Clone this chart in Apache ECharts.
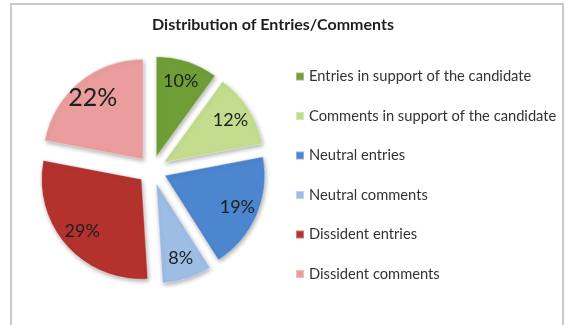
<!DOCTYPE html>
<html>
<head>
<meta charset="utf-8">
<script src="https://cdn.jsdelivr.net/npm/echarts@6/dist/echarts.min.js"></script>
<style>
html,body{margin:0;padding:0;background:#fff;}
#chart{width:567px;height:325px;}
</style>
</head>
<body>
<div id="chart"></div>
<script>
const categories = [
  'Entries in support of the candidate',
  'Comments in support of the candidate',
  'Neutral entries',
  'Neutral comments',
  'Dissident entries',
  'Dissident comments'
];
const shares = [10, 12, 19, 8, 29, 22];
const titleText = 'Distribution of Entries/Comments';

const colors = ['#6f9e36', '#c4dc8e', '#4c86cf', '#9dbde5', '#b3322e', '#ea9d9c'];
const labelFontSizes = [18, 18, 18, 18, 18, 25];

const chart = echarts.init(document.getElementById('chart'), null, {renderer: 'canvas'});

const pieData = categories.map((name, i) => ({
  name: name,
  value: shares[i],
  selected: true,
  itemStyle: {color: colors[i]}
}));
const labelData = categories.map((name, i) => ({
  name: name,
  value: shares[i],
  selected: true,
  label: {fontSize: labelFontSizes[i]}
}));

const center = [152, 170];
chart.setOption({
  animation: false,
  backgroundColor: '#ffffff',
  title: {
    text: titleText,
    left: 268, top: 12, textAlign: 'center',
    textStyle: {fontFamily: 'Lato', fontWeight: 'bold', fontSize: 16, color: '#1e1e1e'}
  },
  graphic: [{
    type: 'rect', silent: true, z: -1,
    shape: {x: 11, y: 4, width: 552, height: 330},
    style: {fill: 'none', stroke: '#cdc8c6', lineWidth: 2}
  }],
  legend: {
    orient: 'vertical',
    left: 290, top: 64,
    itemWidth: 8, itemHeight: 8, itemGap: 24.5,
    icon: 'rect',
    selectedMode: false,
    textStyle: {fontFamily: 'Lato', fontSize: 14.7, color: '#333', lineHeight: 15},
    data: categories
  },
  series: [{
    type: 'pie',
    center: center,
    radius: 100,
    startAngle: 90,
    clockwise: true,
    selectedMode: 'multiple',
    selectedOffset: 14,
    silent: true,
    emphasis: {disabled: true},
    label: {show: false},
    labelLine: {show: false},
    itemStyle: {
      borderColor: 'rgba(255,255,255,0.35)', borderWidth: 1,
      shadowBlur: 4, shadowColor: 'rgba(0,0,0,0.3)', shadowOffsetX: 1, shadowOffsetY: 2
    },
    data: pieData
  }, {
    type: 'pie',
    center: center,
    radius: [52, 100],
    startAngle: 90,
    clockwise: true,
    selectedMode: 'multiple',
    selectedOffset: 14,
    silent: true,
    emphasis: {disabled: true},
    legendHoverLink: false,
    itemStyle: {color: 'rgba(0,0,0,0)'},
    label: {
      show: true, position: 'inside', formatter: '{c}%',
      fontFamily: 'Lato', color: '#1e1e1e'
    },
    labelLine: {show: false},
    data: labelData
  }]
});
</script>
</body>
</html>
